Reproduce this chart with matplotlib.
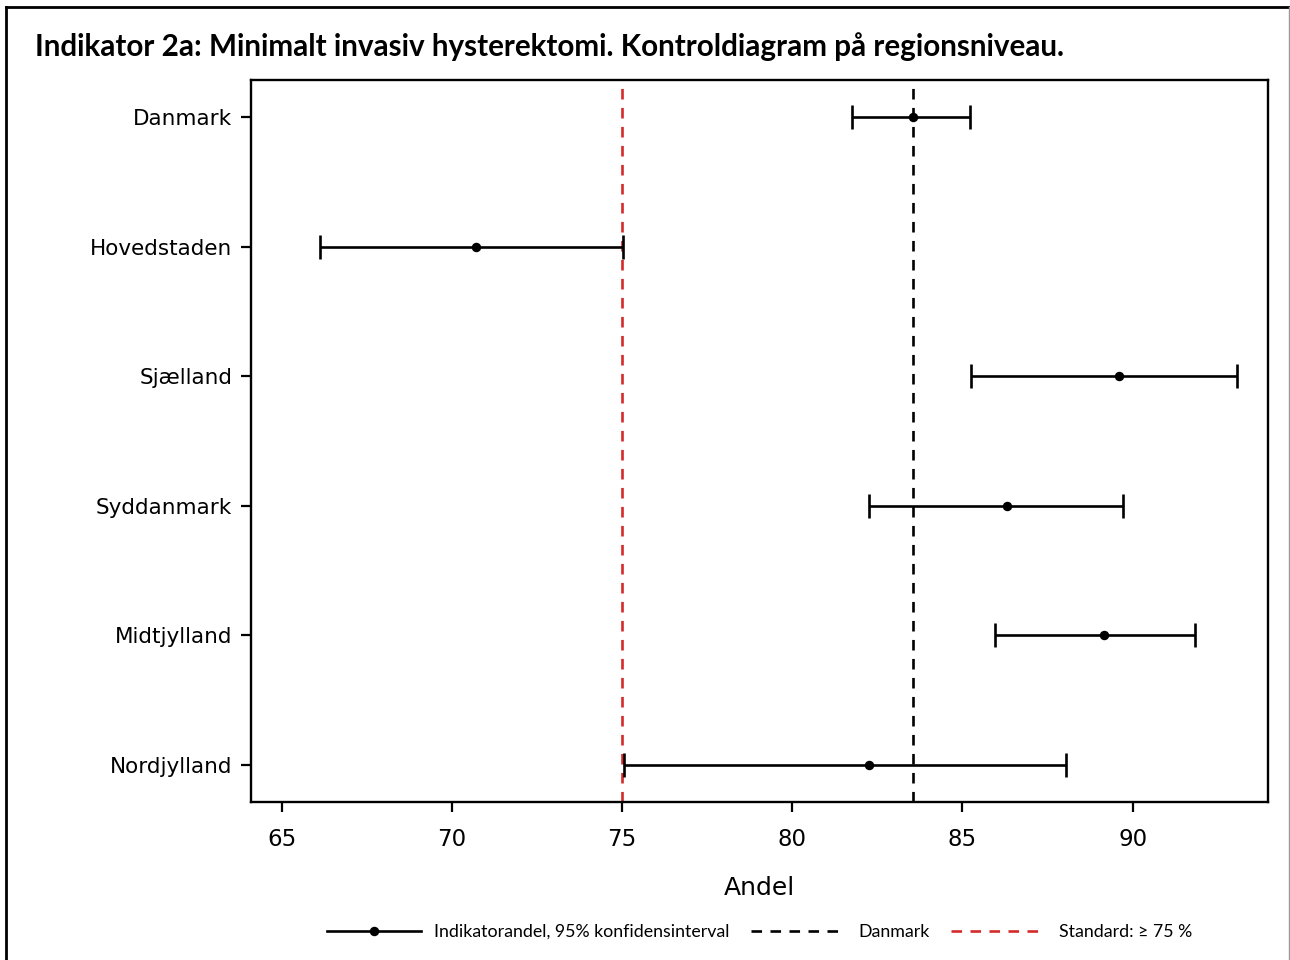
import matplotlib
matplotlib.use("Agg")
import matplotlib.pyplot as plt
from matplotlib.lines import Line2D

# Regional shares (%) with 95% confidence limits
regions = ["Danmark", "Hovedstaden", "Sjælland", "Syddanmark", "Midtjylland", "Nordjylland"]
andel = [83.55, 70.70, 89.60, 86.30, 89.15, 82.25]
lower = [81.75, 66.12, 85.25, 82.25, 85.95, 75.05]
upper = [85.22, 75.02, 93.07, 89.72, 91.82, 88.05]
danmark_ref = 83.55
standard = 75
xticks = [65, 70, 75, 80, 85, 90]

W, H = 1290, 960
fig = plt.figure(figsize=(W / 100, H / 100), dpi=100)
ax = fig.add_axes([251 / W, 1 - 802 / H, (1268 - 251) / W, (802 - 80) / H])

ypos = list(range(len(regions)))
xerr = [[a - l for a, l in zip(andel, lower)], [u - a for a, u in zip(andel, upper)]]

LW = 1.9
DASH = (0, (4.0, 3.2))
RED = "#d42a2a"

ax.axvline(standard, color=RED, lw=LW, ls=DASH, zorder=1)
ax.axvline(danmark_ref, color="black", lw=LW, ls=DASH, zorder=1)
ax.errorbar(andel, ypos, xerr=xerr, fmt="o", color="black", ms=5.8,
            elinewidth=LW, capsize=8.5, capthick=LW, zorder=3)

ax.set_xlim(64.09, 93.98)
ax.set_ylim(5.285, -0.285)
ax.set_yticks(ypos)
ax.set_yticklabels(regions, fontsize=15.5, family="DejaVu Sans")
ax.set_xticks(xticks)
ax.set_xticklabels([str(t) for t in xticks], fontsize=16.5, family="DejaVu Sans")
ax.tick_params(axis="both", direction="out", length=7.5, width=1.6, color="black")
ax.tick_params(axis="y", pad=6)
ax.tick_params(axis="x", pad=11)
for s in ax.spines.values():
    s.set_linewidth(1.7)
ax.set_xlabel("Andel", fontsize=18, family="DejaVu Sans", labelpad=18)

fig.text(35 / W, 1 - 47 / H, "Indikator 2a: Minimalt invasiv hysterektomi. Kontroldiagram på regionsniveau.",
         fontsize=21.3, fontweight="bold", family="Lato", ha="left", va="center")

handles = [
    Line2D([], [], color="black", lw=LW, marker="o", ms=5.8),
    Line2D([], [], color="black", lw=LW, ls=DASH),
    Line2D([], [], color=RED, lw=LW, ls=DASH),
]
labels = ["Indikatorandel, 95% konfidensinterval", "Danmark", "Standard: ≥ 75 %"]
fig.legend(handles, labels, loc="center", bbox_to_anchor=(759.5 / W, 1 - 932 / H),
           ncol=3, frameon=False, handlelength=5.3, handletextpad=0.75, columnspacing=1.2,
           prop={"family": "Lato", "size": 12.8})

# Outer frame
fig.add_artist(Line2D([6 / W, 6 / W], [0, 1 - 7 / H], color="black", lw=2, transform=fig.transFigure))
fig.add_artist(Line2D([6 / W, 1289 / W], [1 - 7 / H, 1 - 7 / H], color="black", lw=2, transform=fig.transFigure))
fig.add_artist(Line2D([1289 / W, 1289 / W], [0, 1 - 7 / H], color="#999999", lw=1, transform=fig.transFigure))

fig.savefig("out.png", dpi=100)
